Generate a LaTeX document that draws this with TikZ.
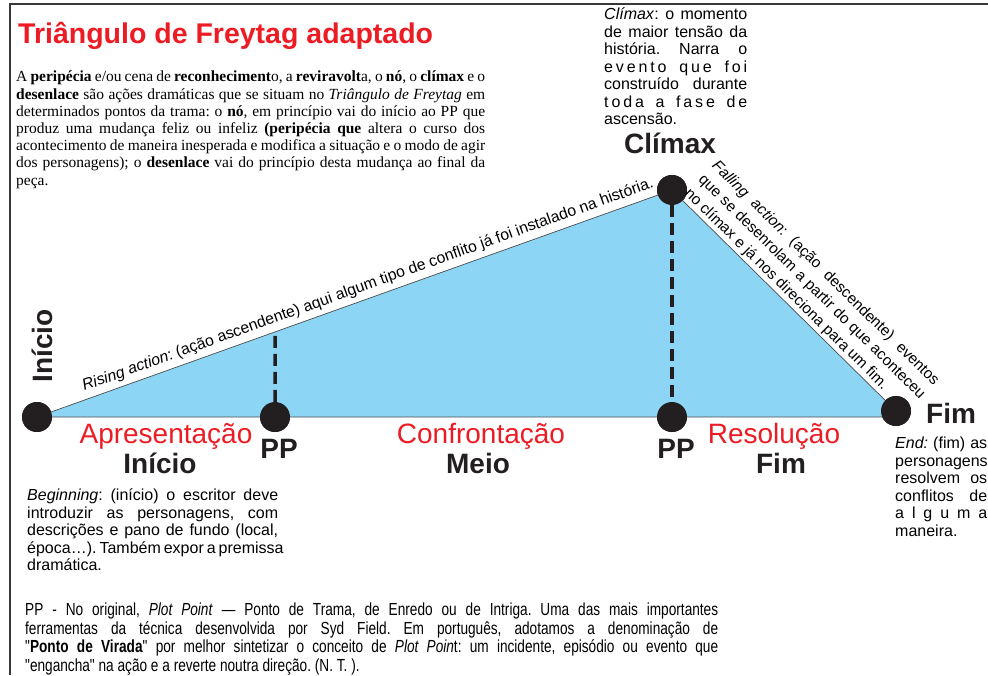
\documentclass[tikz,border=0pt]{standalone}
\usepackage{fontspec}
\setmainfont{Liberation Serif}
\setsansfont{Liberation Sans}
\newfontfamily\narrowsf[FakeStretch=0.78]{Liberation Sans}
\usetikzlibrary{calc}
\definecolor{skyfill}{RGB}{141,213,245}
\definecolor{titlered}{RGB}{237,28,36}
\definecolor{framegray}{RGB}{55,55,55}
\definecolor{dotblack}{RGB}{35,31,32}
\newcommand{\jl}[2]{\makebox[#1][s]{#2}}
\newcommand{\wide}[2]{\makebox[#1][s]{\addfontfeature{LetterSpace=18}#2}}
\frenchspacing

\begin{document}
\begin{tikzpicture}[x=1pt,y=-1pt,
    dot/.style={circle,fill=dotblack,minimum size=30pt,inner sep=0pt},
    big/.style={font=\sffamily\bfseries\fontsize{28}{30}\selectfont,text=dotblack,inner sep=0pt},
    phase/.style={font=\sffamily\fontsize{28}{30}\selectfont,text=titlered,inner sep=0pt},
    note/.style={font=\sffamily\fontsize{16}{17.5}\selectfont,align=left,inner sep=0pt},
    pline/.style={dotblack,line width=3.5pt,dash pattern=on 12pt off 6pt}]
\useasboundingbox (0,0) rectangle (988,675);
\draw[framegray,line width=2.5pt] (10,675) -- (10,4) -- (988,4);

\node (ini) [dot] at (37,417) {};
\node (pp1) [dot] at (275,417) {};
\node (clx) [dot] at (672,190) {};
\node (pp2) [dot] at (672,417) {};
\node (fim) [dot] at (896,411) {};
\coordinate (cut) at (intersection of ini.center--clx.center and pp1.center--pp1.north);

\filldraw[fill=skyfill,draw=black!70,line width=0.7pt] (ini.center) -- (clx.center) -- (fim.center) -- (fim.center |- ini.center) -- cycle;
\draw[pline] (clx) -- (pp2);
\draw[pline] (pp1) -- (cut);
\foreach \n in {ini,pp1,clx,pp2,fim}
    \node[dot] at (\n) {};

\path (ini.center) -- (clx.center) node[pos=0.528,sloped,above=5pt,inner sep=0pt,font=\sffamily\fontsize{15.8}{17}\selectfont] (risetxt) {\textit{Rising action}: (ação ascendente) aqui algum tipo de conflito já foi instalado na história.};
\path (clx.center) -- (fim.center) node[pos=0.03,sloped,anchor=south west,inner sep=2pt,align=left,font=\sffamily\fontsize{15.3}{19.5}\selectfont] (falltxt) {\jl{312pt}{\textit{Falling action}: (ação descendente) eventos}\\
\jl{312pt}{que se desenrolam a partir do que aconteceu}\\
no clímax e já nos direciona para um fim.};

\node[big,anchor=base] (clxlbl) at (670,153) {Clímax};
\node[big,anchor=base west] (fimlbl) at (926,423) {Fim};
\node[big,rotate=90,anchor=base] (inilbl) at (52,346) {Início};
\node[big,anchor=base] (pp1lbl) at (279,458) {PP};
\node[big,anchor=base] (pp2lbl) at (676,458) {PP};
\node[phase,anchor=base] (apres) at (166,443) {Apresentação};
\node[big,anchor=base] (inicio) at (160,473) {Início};
\node[phase,anchor=base] (confr) at (481,443) {Confrontação};
\node[big,anchor=base] (meio) at (478,473) {Meio};
\node[phase,anchor=base] (resol) at (774,443) {Resolução};
\node[big,anchor=base] (fimpt) at (781,473) {Fim};

\node[anchor=base west,inner sep=0pt,text=titlered,font=\sffamily\bfseries\fontsize{28.5}{30}\selectfont] (title) at (18,43) {Triângulo de Freytag adaptado};

\node[anchor=north west,inner sep=0pt,align=left,font=\rmfamily\fontsize{15.5}{17.2}\selectfont] (intro) at (16,71) {\jl{469pt}{A \textbf{peripécia} e/ou cena de \textbf{reconheciment}o, a \textbf{reviravolt}a, o \textbf{nó}, o \textbf{clímax} e o}\\
\jl{469pt}{\textbf{desenlace} são ações dramáticas que se situam no \textit{Triângulo de Freytag} em}\\
\jl{469pt}{determinados pontos da trama: o \textbf{nó}, em princípio vai do início ao PP que}\\
\jl{469pt}{produz uma mudança feliz ou infeliz \textbf{(peripécia que} altera o curso dos}\\
\jl{469pt}{acontecimento de maneira inesperada e modifica a situação e o modo de agir}\\
\jl{469pt}{dos personagens); o \textbf{desenlace} vai do princípio desta mudança ao final da}\\
peça.};

\node[note,anchor=north west] (clxnote) at (604,8) {\jl{143pt}{\textit{Clímax}: o momento}\\
\jl{143pt}{de maior tensão da}\\
\jl{143pt}{história. Narra o}\\
\wide{143pt}{evento que foi}\\
\jl{143pt}{construído durante}\\
\wide{143pt}{toda a fase de}\\
ascensão.};

\node[note,anchor=north west] (begnote) at (27,489) {\jl{251pt}{\textit{Beginning}: (início) o escritor deve}\\
\jl{251pt}{introduzir as personagens, com}\\
\jl{251pt}{descrições e pano de fundo (local,}\\
\jl{251pt}{época…). Também expor a premissa}\\
dramática.};

\node[note,anchor=north west] (endnote) at (895,437) {\jl{92pt}{\textit{End:} (fim) as}\\
\jl{92pt}{personagens}\\
\jl{92pt}{resolvem os}\\
\jl{92pt}{conflitos de}\\
\jl{92pt}{a\hfill l\hfill g\hfill u\hfill m\hfill a}\\
maneira.};

\node[anchor=north west,inner sep=0pt,align=left,font=\narrowsf\fontsize{17.5}{18.5}\selectfont] (ppnote) at (25,603) {\jl{693pt}{PP - No original, \textit{Plot Point} — Ponto de Trama, de Enredo ou de Intriga. Uma das mais importantes}\\
\jl{693pt}{ferramentas da técnica desenvolvida por Syd Field. Em português, adotamos a denominação de}\\
\jl{693pt}{"\textbf{Ponto de Virada}" por melhor sintetizar o conceito de \textit{Plot Poin}t: um incidente, episódio ou evento que}\\
"engancha" na ação e a reverte noutra direção. (N. T. ).};
\end{tikzpicture}
\end{document}
